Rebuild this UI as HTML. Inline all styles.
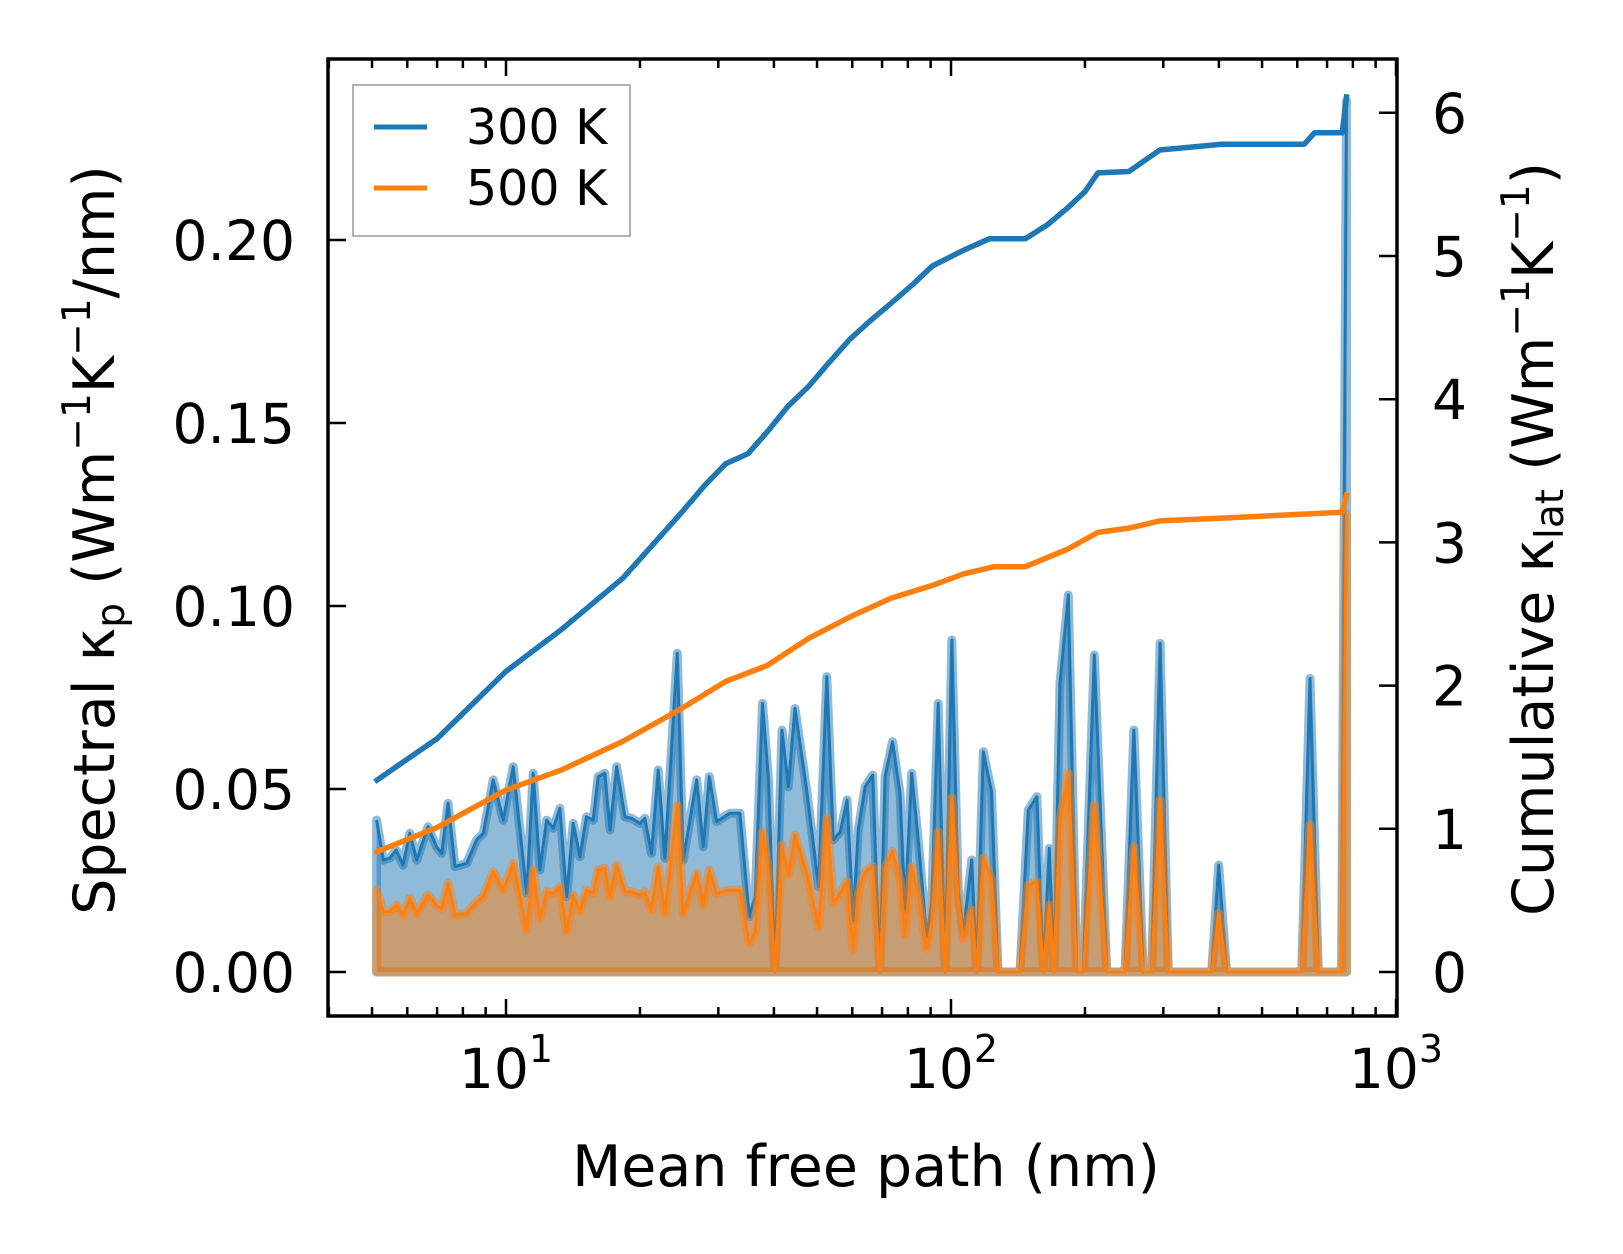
<!DOCTYPE html>
<html><head><meta charset="utf-8"><style>
html,body{margin:0;padding:0;background:#fff;}
svg{display:block;font-family:"DejaVu Sans","Liberation Sans",sans-serif;}
</style></head><body>
<svg id="chart" width="1623" height="1254" viewBox="0 0 1623 1254" xmlns="http://www.w3.org/2000/svg">
<rect width="1623" height="1254" fill="#fff"/>
<g id="plot"></g>
<g id="axes"></g>
</svg>
<script>
const mfp = [5.12,5.30,5.48,5.67,5.87,6.08,6.30,6.68,6.98,7.17,7.41,7.68,8.16,8.59,8.89,9.36,9.86,10.38,11.13,11.51,11.92,12.34,12.77,13.22,13.68,14.16,14.66,15.17,15.70,16.11,16.67,17.13,17.73,18.50,19.15,19.99,20.51,21.23,21.98,22.75,24.26,25.02,26.83,27.76,28.63,29.73,31.85,33.55,35.2,36.3,37.7,38.9,40.2,41.7,43.1,44.6,47.4,50.4,52.6,54.4,56.4,58.4,60.3,61.9,64.1,66.7,69.2,71.1,73.9,76.8,78.8,81.6,84.5,88.2,90.5,93.6,97.0,100.4,103.8,106.6,111.3,114.2,118.2,123.3,127.5,142.9,149.2,156.0,161.2,166.3,170.3,175.8,183.5,191.6,198.3,209.9,223.9,246.0,257.6,270.4,282.4,295.1,307.9,385.3,399.6,416.3,613.8,640.8,668.9,754.6,774.0];
const spec300 = [.0415,.0306,.0311,.0333,.0292,.0379,.0306,.0397,.0342,.0324,.0461,.0288,.0297,.0361,.0379,.0525,.0415,.0561,.0215,.0543,.0279,.0415,.0393,.0447,.0206,.0406,.0315,.0424,.0415,.0534,.0543,.0388,.0561,.0424,.0420,.0406,.0420,.0324,.0552,.0311,.0871,.0306,.0525,.0342,.0534,.0411,.0434,.0434,.0151,.0206,.0734,.0525,0,.0661,.0506,.0720,.0497,.0233,.0807,.0361,.0383,.0470,.0142,.0388,.0506,.0538,0,.0534,.0629,.0488,.0169,.0543,.0352,.0096,.0188,.0734,0,.0907,.0224,.0106,.0306,0,.0602,.0493,0,0,.0443,.0479,0,.0338,0,.0789,.1030,0,0,.0866,0,0,.0661,0,0,.0898,0,0,.0292,0,0,.0802,0,0,.238];
const spec500 = [.0224,.0165,.0165,.0183,.0156,.0201,.0160,.0210,.0183,.0174,.0242,.0156,.0160,.0192,.0206,.0274,.0224,.0297,.0115,.0279,.0147,.0219,.0215,.0233,.0110,.0210,.0165,.0224,.0215,.0279,.0283,.0206,.0292,.0219,.0219,.0210,.0219,.0169,.0288,.0160,.0456,.0160,.0270,.0183,.0279,.0215,.0224,.0224,.0078,.0110,.0383,.0279,0,.0347,.0265,.0374,.0270,.0124,.0420,.0188,.0215,.0247,.0060,.0215,.0274,.0288,0,.0283,.0329,.0251,.0101,.0288,.0206,.0065,.0133,.0383,0,.0475,.0197,.0090,.0169,0,.0311,.0251,0,0,.0238,.0247,0,.0183,0,.0415,.0543,0,0,.0456,0,0,.0342,0,0,.0470,0,0,.0160,0,0,.0402,0,0,.125];
const cumMfp300 = [5.13,7.0,10,13.3,18.3,24.5,28,31.2,35,38.6,43,47.9,53,59.3,66,73.3,82,90.8,106.6,121.9,146.9,165,182,200,213.8,251,294.6,405.6,622,656,757,774];
const cum300 = [1.34,1.63,2.10,2.39,2.75,3.19,3.40,3.55,3.62,3.77,3.95,4.09,4.25,4.42,4.55,4.67,4.80,4.93,5.04,5.12,5.12,5.22,5.33,5.45,5.58,5.59,5.74,5.78,5.78,5.86,5.86,6.11];
const cumMfp500 = [5.13,7.0,10,13.3,18.3,24.5,31.2,38.6,47.9,59.3,73.3,90.8,106.6,125,146.9,182,213.8,251,294.6,405.6,757,774];
const cum500 = [0.84,1.01,1.27,1.41,1.61,1.83,2.03,2.14,2.33,2.48,2.61,2.70,2.78,2.83,2.83,2.95,3.07,3.10,3.15,3.17,3.21,3.33];
const leftTicks = [0,0.05,0.10,0.15,0.20];
const leftTickLabels = ["0.00","0.05","0.10","0.15","0.20"];
const rightTicks = [0,1,2,3,4,5,6];
const xMajor = [1,2,3];

const L=328,R=1397,T=59,B=1016;
const xs = m => 506 + (Math.log10(m)-1)*445;
const yL = v => 972 - v*3660;
const yR = v => 972 - v*143.2;
const NS="http://www.w3.org/2000/svg";
const plot=document.getElementById('plot'), axes=document.getElementById('axes');
function mk(tag,attrs,parent){const e=document.createElementNS(NS,tag);for(const k in attrs)e.setAttribute(k,attrs[k]);parent.appendChild(e);return e;}

function spectral(vals,color,name){
  const pts=mfp.map((m,i)=>xs(m).toFixed(1)+','+yL(vals[i]).toFixed(1));
  const poly=pts.join(' ')+' '+xs(mfp[mfp.length-1]).toFixed(1)+','+yL(0)+' '+xs(mfp[0]).toFixed(1)+','+yL(0);
  const f=mk('polygon',{points:poly,fill:color,'fill-opacity':0.5,stroke:color,'stroke-opacity':0.5,'stroke-width':9,'stroke-linejoin':'round'},plot);
  
  
  const l=mk('polyline',{points:pts.join(' '),fill:'none',stroke:color,'stroke-width':3,'stroke-linejoin':'round'},plot);
  
  
}
spectral(spec300,'#1f77b4','spectral-300k');
spectral(spec500,'#ff7f0e','spectral-500k');

function cum(ms,vals,color,name){
  const pts=ms.map((m,i)=>xs(m).toFixed(1)+','+yR(vals[i]).toFixed(1)).join(' ');
  const l=mk('polyline',{points:pts,fill:'none',stroke:color,'stroke-width':5.5,'stroke-linejoin':'round','stroke-linecap':'square'},plot);
  
  
}
cum(cumMfp300,cum300,'#1f77b4','cumulative-300k');
cum(cumMfp500,cum500,'#ff7f0e','cumulative-500k');

const fr=mk('rect',{x:L,y:T,width:R-L,height:B-T,fill:'none',stroke:'#000','stroke-width':3.5},axes);



for(let d=0;d<=3;d++){
  for(let k=1;k<=9;k++){
    const m=k*Math.pow(10,d);
    if(m<4||m>1010) continue;
    const x=xs(m), len=(k===1)?17:9;
    mk('line',{x1:x,y1:B,x2:x,y2:B-len,stroke:'#000','stroke-width':2.5},axes);
    mk('line',{x1:x,y1:T,x2:x,y2:T+len,stroke:'#000','stroke-width':2.5},axes);
  }
}
xMajor.forEach(p=>{
  const t=mk('text',{x:xs(Math.pow(10,p)),y:1088,'font-size':55,'text-anchor':'middle'},axes);
  
  
  t.innerHTML='10<tspan dy="-26" font-size="38">'+p+'</tspan>';
});
leftTicks.forEach((v,i)=>{
  const y=yL(v);
  mk('line',{x1:L,y1:y,x2:L+18,y2:y,stroke:'#000','stroke-width':2.5},axes);
  const t=mk('text',{x:295,y:y+20,'font-size':55,'text-anchor':'end'},axes);
  
  
  t.textContent=leftTickLabels[i];
});
rightTicks.forEach(v=>{
  const y=yR(v);
  mk('line',{x1:R,y1:y,x2:R-18,y2:y,stroke:'#000','stroke-width':2.5},axes);
  const t=mk('text',{x:1432,y:y+20,'font-size':55,'text-anchor':'start'},axes);
  
  
  t.textContent=String(v);
});
</script>
<svg style="position:absolute;left:0;top:0" width="1623" height="1254" xmlns="http://www.w3.org/2000/svg" font-family="DejaVu Sans, Liberation Sans, sans-serif">
<text x="866" y="1186" font-size="57" text-anchor="middle">Mean free path (nm)</text>
<text transform="translate(114,540) rotate(-90)" font-size="57" text-anchor="middle">Spectral κ<tspan dy="10" font-size="39">p</tspan><tspan dy="-10"> (Wm</tspan><tspan dy="-24" font-size="39">−1</tspan><tspan dy="24">K</tspan><tspan dy="-24" font-size="39">−1</tspan><tspan dy="24">/nm)</tspan></text>
<text transform="translate(1553,539) rotate(-90)" font-size="57" text-anchor="middle">Cumulative κ<tspan dy="10" font-size="39">lat</tspan><tspan dy="-10"> (Wm</tspan><tspan dy="-24" font-size="39">−1</tspan><tspan dy="24">K</tspan><tspan dy="-24" font-size="39">−1</tspan><tspan dy="24">)</tspan></text>
<g>
<rect x="353" y="85" width="277" height="151" fill="#fff" fill-opacity="0.8" stroke="#999" stroke-width="1.5"/>
<line x1="374" y1="127" x2="427" y2="127" stroke="#1f77b4" stroke-width="5"/>
<text x="466" y="144" font-size="49">300 K</text>
<line x1="374" y1="188" x2="427" y2="188" stroke="#ff7f0e" stroke-width="5"/>
<text x="466" y="205" font-size="49">500 K</text>
</g>
</svg>
</body></html>
